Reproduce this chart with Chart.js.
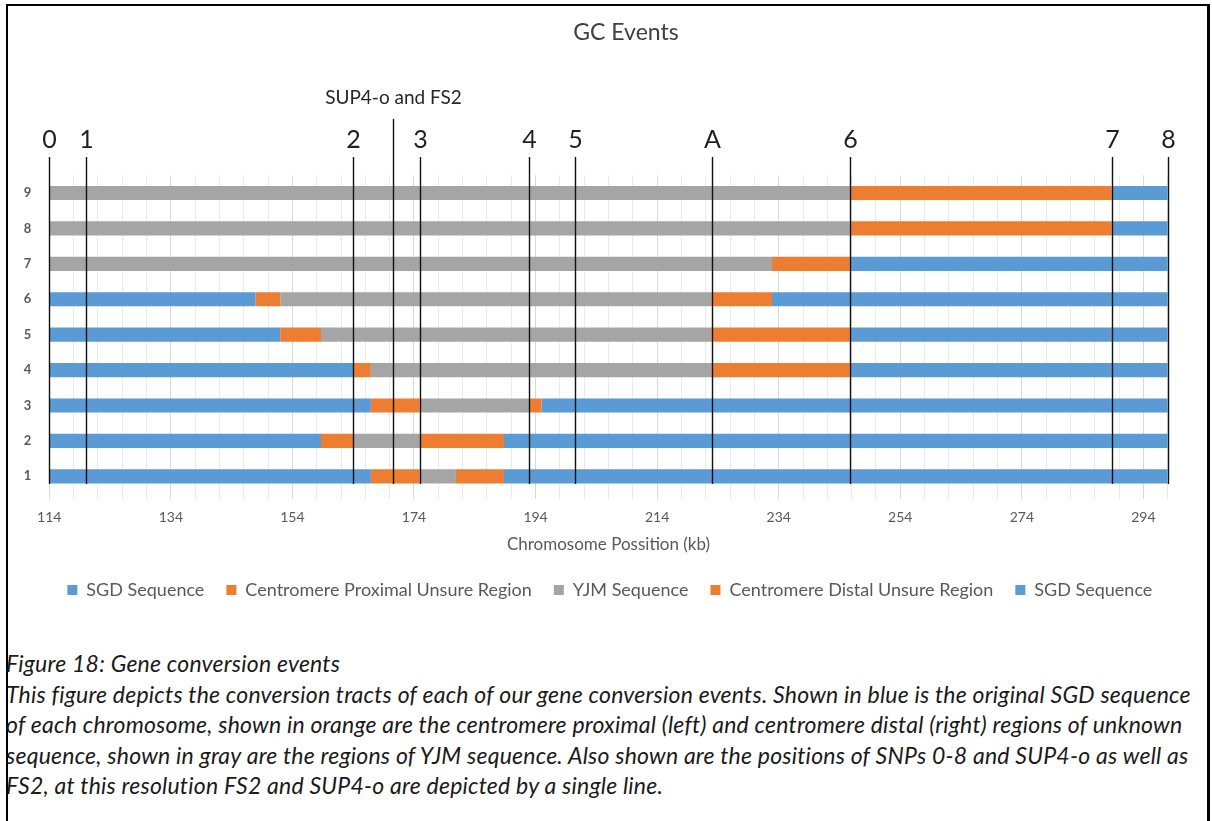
<!DOCTYPE html>
<html>
<head>
<meta charset="utf-8">
<title>GC Events</title>
<script src="https://cdn.jsdelivr.net/npm/chart.js@4/dist/chart.umd.min.js"></script>
<style>
  html, body { margin: 0; padding: 0; background: #fff; }
  body { width: 1212px; height: 821px; position: relative; overflow: hidden; font-family: Lato, "Open Sans", sans-serif; }
  #frame {
    position: absolute; left: 6px; top: 4px; width: 1204px; height: 860px;
    border-top: 2px solid #000; border-left: 2px solid #000; border-right: 3px solid #000;
    box-sizing: border-box;
  }
  #wrap { position: absolute; left: 0; top: 0; width: 1212px; height: 640px; }
  #caption {
    position: absolute; left: 6px; top: 648px;
    font-family: Lato, sans-serif; font-style: italic; font-size: 23px; line-height: 30.5px;
    letter-spacing: 0.22px; color: #1a1a1a; white-space: nowrap;
  }
</style>
</head>
<body>
<div id="frame"></div>
<div id="wrap"><canvas id="chart" width="1212" height="640"></canvas></div>
<div id="caption">
  <div>Figure 18: Gene conversion events</div>
  <div>This figure depicts the conversion tracts of each of our gene conversion events. Shown in blue is the original SGD sequence</div>
  <div>of each chromosome, shown in orange are the centromere proximal (left) and centromere distal (right) regions of unknown</div>
  <div>sequence, shown in gray are the regions of YJM sequence. Also shown are the positions of SNPs 0-8 and SUP4-o as well as</div>
  <div>FS2, at this resolution FS2 and SUP4-o are depicted by a single line.</div>
</div>
<script>
// Chromosomes (bottom to top) and the length in kb of each tract, left to right.
// The first SGD tract is measured from the chromosome origin.
const chromosomes = ['1', '2', '3', '4', '5', '6', '7', '8', '9'];
const sgdLeft  = [166.9, 158.7, 166.9, 164.1, 152.0, 147.9, 114, 114, 114];
const proximal = [8.0, 5.3, 8.0, 2.8, 6.7, 4.1, 0, 0, 0];
const yjm      = [6.0, 11.0, 18.1, 56.0, 64.2, 70.9, 118.9, 131.7, 131.7];
const distal   = [7.9, 13.8, 2.0, 22.8, 22.8, 10.0, 12.8, 43.1, 43.1];
const sgdRight = [109.2, 109.2, 103.0, 52.3, 52.3, 65.1, 52.3, 9.2, 9.2];

// Marker positions (kb)
const snpLabels    = ['0', '1', '2', '3', '4', '5', 'A', '6', '7', '8'];
const snpPositions = [114, 120, 164, 175, 193, 200.5, 223, 245.7, 288.8, 298];
const sup4Label    = 'SUP4-o and FS2';
const sup4Position = 170.6;

// Axis range and tick spacing (kb)
const axisMin = 114;
const axisMax = 298;
const majorStep = 20;
const minorStep = 4;

const BLUE = '#5B9BD5', ORANGE = '#ED7D31', GRAY = '#A5A5A5';
const FONT = 'Lato, "Open Sans", sans-serif';

// Centres the legend under the whole frame rather than the plot box.
const legendShift = {
  id: 'legendShift',
  afterLayout(chart) {
    if (chart.legend) {
      chart.legend.left += 22;
      chart.legend.right += 22;
    }
  }
};

// Draws the title, the SNP / SUP4 marker lines and their labels.
const markerPlugin = {
  id: 'markers',
  afterDatasetsDraw(chart) {
    const { ctx, chartArea, scales: { x } } = chart;
    const lineBottom = chartArea.bottom - 10;
    ctx.save();
    ctx.strokeStyle = '#111';
    ctx.lineWidth = 1.4;
    ctx.textAlign = 'center';
    ctx.textBaseline = 'middle';
    ctx.fillStyle = '#1f1f1f';
    ctx.font = '25px ' + FONT;
    snpPositions.forEach((pos, i) => {
      const px = Math.round(x.getPixelForValue(pos)) + 0.5;
      ctx.beginPath();
      ctx.moveTo(px, 157);
      ctx.lineTo(px, lineBottom);
      ctx.stroke();
      ctx.fillText(snpLabels[i], px, 140);
    });
    const sx = Math.round(x.getPixelForValue(sup4Position)) + 0.5;
    ctx.beginPath();
    ctx.moveTo(sx, 119);
    ctx.lineTo(sx, lineBottom);
    ctx.stroke();
    ctx.font = '19px ' + FONT;
    ctx.fillStyle = '#262626';
    ctx.fillText(sup4Label, sx, 98);
    // chart title
    ctx.font = '23px ' + FONT;
    ctx.fillStyle = '#404040';
    ctx.fillText('GC Events', 626, 33);
    ctx.restore();
  }
};

const makeSet = (label, data, color) => ({
  label, data, backgroundColor: color, borderWidth: 0, clip: 0,
  barPercentage: 0.4, categoryPercentage: 1.0
});

new Chart(document.getElementById('chart'), {
  type: 'bar',
  data: {
    labels: chromosomes,
    datasets: [
      makeSet('SGD Sequence', sgdLeft, BLUE),
      makeSet('Centromere Proximal Unsure Region', proximal, ORANGE),
      makeSet('YJM Sequence', yjm, GRAY),
      makeSet('Centromere Distal Unsure Region', distal, ORANGE),
      makeSet('SGD Sequence', sgdRight, BLUE)
    ]
  },
  options: {
    indexAxis: 'y',
    responsive: false,
    animation: false,
    layout: { padding: { left: 8, right: 44.3, top: 175.3, bottom: 31 } },
    scales: {
      x: {
        stacked: true,
        min: axisMin,
        max: axisMax,
        border: { display: false },
        grid: {
          drawTicks: true,
          tickLength: 5,
          lineWidth: 1,
          color: (c) => ((c.tick && (c.tick.value - axisMin) % majorStep === 0) ? '#D9D9D9' : '#EBEBEB')
        },
        ticks: {
          stepSize: minorStep,
          autoSkip: false,
          maxRotation: 0,
          padding: 10,
          color: '#595959',
          font: { family: FONT, size: 14 },
          callback: (v) => ((v - axisMin) % majorStep === 0 ? String(v) : '')
        },
        title: {
          display: true,
          text: 'Chromosome Possition (kb)',
          color: '#595959',
          font: { family: FONT, size: 17 },
          padding: { top: 0, bottom: 3.8 }
        },
        afterFit: (s) => { s.height = 65; }
      },
      y: {
        stacked: true,
        reverse: true,
        border: { display: false },
        grid: { display: false, drawTicks: false },
        ticks: {
          padding: 18,
          color: '#595959',
          font: { family: FONT, size: 13, weight: 'bold' }
        },
        afterFit: (s) => { s.width = 41.3; }
      }
    },
    plugins: {
      title: { display: false },
      tooltip: { enabled: false },
      legend: {
        position: 'bottom',
        labels: {
          boxWidth: 10,
          boxHeight: 10,
          padding: 22,
          color: '#595959',
          font: { family: FONT, size: 18 }
        }
      }
    }
  },
  plugins: [markerPlugin, legendShift]
});
</script>
</body>
</html>
